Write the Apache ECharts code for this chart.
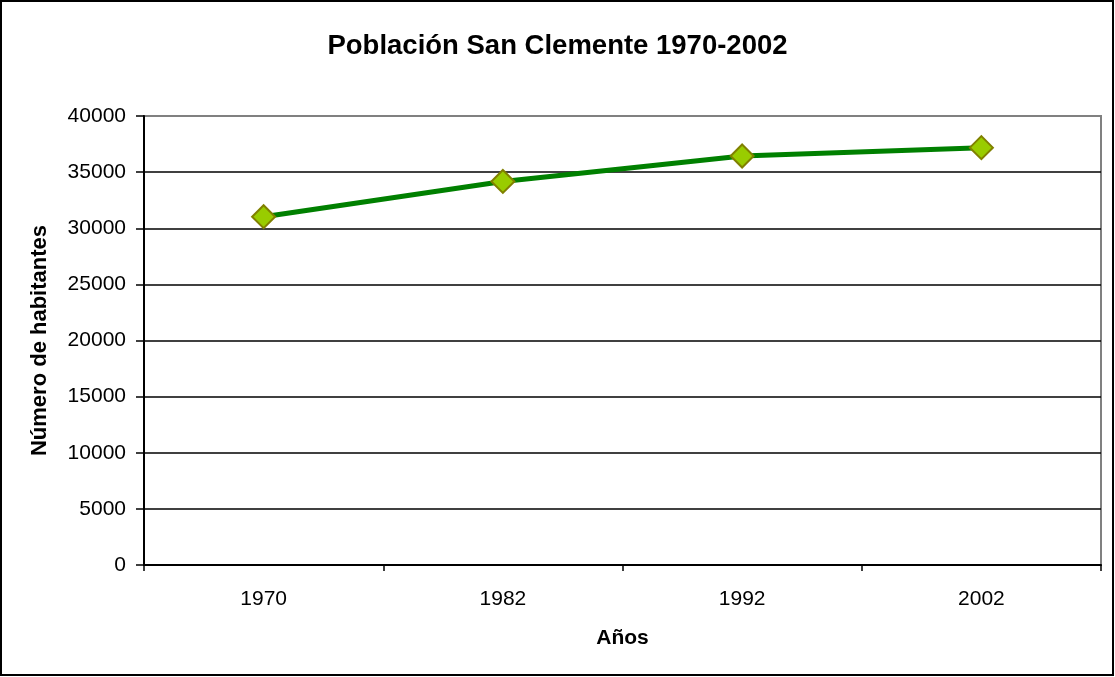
<!DOCTYPE html>
<html>
<head>
<meta charset="utf-8">
<script src="https://cdn.jsdelivr.net/npm/echarts@6/dist/echarts.min.js"></script>
<style>
html,body{margin:0;padding:0;background:#fff;}
#chart{width:1115px;height:677px;}
</style>
</head>
<body>
<div id="chart"></div>
<script>
const titleText = 'Población San Clemente 1970-2002';
const categories = ['1970', '1982', '1992', '2002'];
const population = [31030, 34170, 36440, 37180];
const yAxisName = 'Número de habitantes';
const xAxisName = 'Años';

const chart = echarts.init(document.getElementById('chart'), null, {renderer: 'canvas'});
const font = 'Liberation Sans, Arial, sans-serif';
chart.setOption({
  backgroundColor: '#fff',
  animation: false,
  title: {
    text: titleText,
    left: 'center',
    top: 27,
    textStyle: {fontFamily: font, fontSize: 27.5, fontWeight: 'bold', color: '#000'}
  },
  graphic: [{
    type: 'rect',
    shape: {x: 1, y: 1, width: 1112, height: 674},
    style: {fill: 'none', stroke: '#000', lineWidth: 2},
    silent: true
  }],
  grid: {
    left: 144, right: 14, top: 116, bottom: 112,
    show: true, borderColor: '#808080', borderWidth: 2, backgroundColor: '#fff'
  },
  xAxis: {
    type: 'category',
    data: categories,
    boundaryGap: true,
    name: xAxisName,
    nameLocation: 'middle',
    nameGap: 63,
    nameTextStyle: {fontFamily: font, fontSize: 21, fontWeight: 'bold', color: '#000'},
    axisLine: {lineStyle: {color: '#000', width: 2}},
    axisTick: {show: true, length: 6, lineStyle: {color: '#000', width: 1.5}},
    axisLabel: {fontFamily: font, fontSize: 21, color: '#000', margin: 24},
    splitLine: {show: false}
  },
  yAxis: {
    type: 'value',
    min: 0, max: 40000, interval: 5000,
    name: yAxisName,
    nameLocation: 'middle',
    nameGap: 93,
    nameTextStyle: {fontFamily: font, fontSize: 22, fontWeight: 'bold', color: '#000'},
    axisLine: {show: true, lineStyle: {color: '#000', width: 2}},
    axisTick: {show: true, length: 8, lineStyle: {color: '#000', width: 1.5}},
    axisLabel: {fontFamily: font, fontSize: 21, color: '#000', margin: 18,
      formatter: function (v) { return String(v); }},
    splitLine: {show: true, showMaxLine: false, lineStyle: {color: '#000', width: 1.5}}
  },
  series: [{
    type: 'line',
    data: population,
    lineStyle: {color: '#008000', width: 5},
    symbol: 'diamond',
    symbolSize: 23,
    itemStyle: {color: '#99CC00', borderColor: '#808000', borderWidth: 2},
    z: 5
  }]
});
</script>
</body>
</html>
